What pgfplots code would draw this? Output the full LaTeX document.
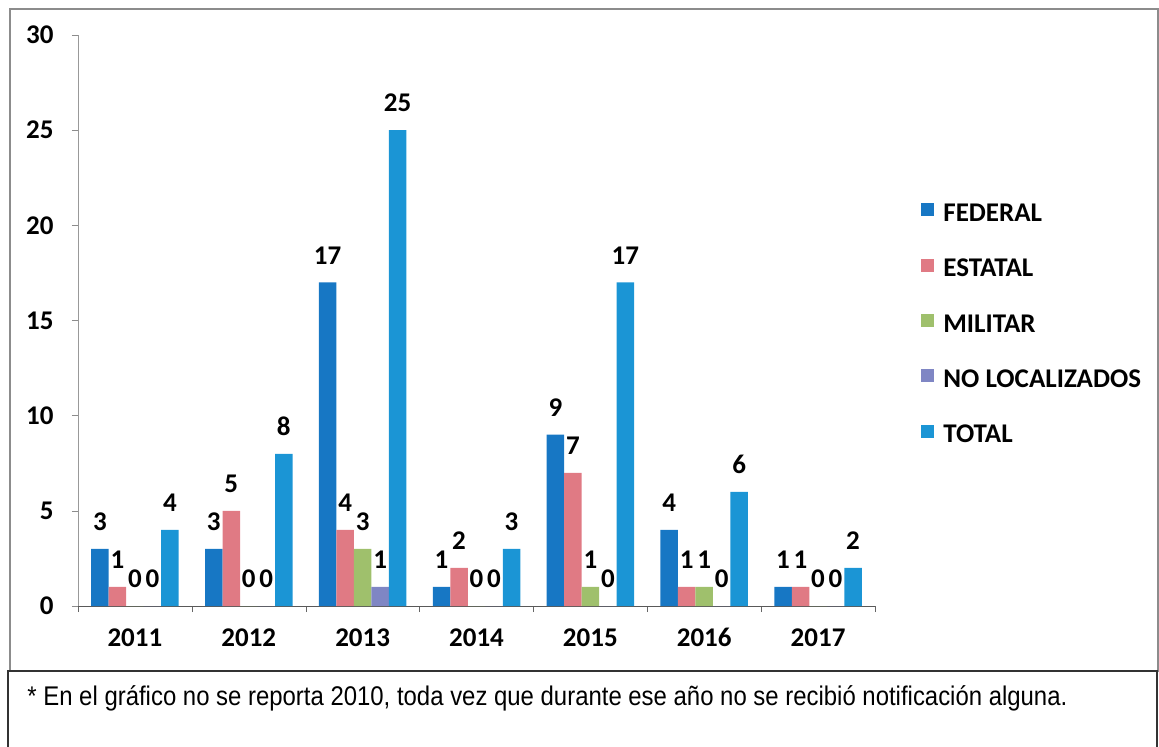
\documentclass[border=0pt]{standalone}
\usepackage{pgfplots}
\pgfplotsset{compat=1.18}
\usepackage{fontspec}
\setmainfont{Carlito}
\newfontfamily\arialfont{Liberation Sans}
\definecolor{cfed}{HTML}{1777C4}
\definecolor{cest}{HTML}{E07A84}
\definecolor{cmil}{HTML}{9FC06C}
\definecolor{cnol}{HTML}{7F86C4}
\definecolor{ctot}{HTML}{1B95D5}
\newcommand{\lblfont}{\bfseries\fontsize{13.5}{15}\selectfont}
\begin{document}
\begin{tikzpicture}
\begin{scope}[x=0.5pt,y=-0.5pt]
\path[use as bounding box] (0,0) rectangle (1159,746);
\draw[black!45, line width=0.7pt] (10,9) rectangle (1158,671);
\draw[black!80, line width=1pt] (8,760) -- (8,671) -- (1157,671) -- (1157,760);
\node[anchor=base west, inner sep=0pt] at (27,705)
  {\resizebox{520pt}{\height}{\arialfont\fontsize{13.5}{15}\selectfont * En el gráfico no se reporta 2010, toda vez que durante ese año no se recibió notificación alguna.}};
\end{scope}
\begin{axis}[
  at={(39pt,-303pt)}, anchor=south west,
  scale only axis, width=398.5pt, height=285.5pt,
  ybar=0pt, bar width=8.75pt,
  xmin=-0.5, xmax=6.5, ymin=0, ymax=30,
  xtick={0,...,6}, xticklabels={2011,2012,2013,2014,2015,2016,2017},
  minor xtick={-0.5,0.5,...,6.5},
  ytick={0,5,...,30},
  /pgf/number format/assume math mode=true,
  axis lines*=left,
  x axis line style={black!65},
  y axis line style={black!40},
  tick align=outside,
  major tick length=3pt, minor tick length=3pt,
  major x tick style={draw=none},
  minor x tick style={black!60},
  ytick style={black!45},
  tick label style={font=\lblfont},
  xticklabel style={inner sep=0pt, yshift=-8pt},
  yticklabel style={inner sep=0pt, xshift=-9pt},
  nodes near coords,
  nodes near coords style={font=\lblfont, inner sep=0pt, anchor=south, yshift=9pt},
  legend style={at={(1.0577,0.706)}, anchor=north west, draw=none, fill=none,
    inner sep=0pt, font=\lblfont, row sep=15.7pt, column sep=4.5pt,
    nodes={inner sep=0pt, text height=9pt, text depth=3pt}},
  legend cell align=left,
  legend image code/.code={\fill[#1] (0pt,-0.5pt) rectangle (6.5pt,6pt);},
]
\addplot[fill=cfed, draw=none] coordinates {(0,3) (1,3) (2,17) (3,1) (4,9) (5,4) (6,1)};
\addlegendentry{FEDERAL}
\addplot[fill=cest, draw=none] coordinates {(0,1) (1,5) (2,4) (3,2) (4,7) (5,1) (6,1)};
\addlegendentry{ESTATAL}
\addplot[fill=cmil, draw=none] coordinates {(0,0) (1,0) (2,3) (3,0) (4,1) (5,1) (6,0)};
\addlegendentry{MILITAR}
\addplot[fill=cnol, draw=none] coordinates {(0,0) (1,0) (2,1) (3,0) (4,0) (5,0) (6,0)};
\addlegendentry{NO LOCALIZADOS}
\addplot[fill=ctot, draw=none] coordinates {(0,4) (1,8) (2,25) (3,3) (4,17) (5,6) (6,2)};
\addlegendentry{TOTAL}
\end{axis}
\end{tikzpicture}
\end{document}
